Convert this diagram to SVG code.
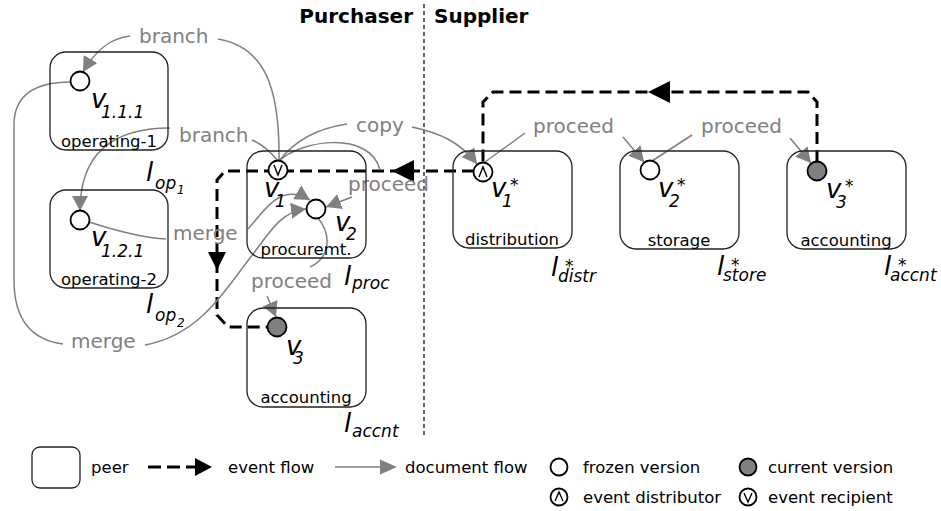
<svg xmlns="http://www.w3.org/2000/svg" width="941" height="511" viewBox="0 0 941 511">
<style>
text{font-family:"DejaVu Sans","Liberation Sans",sans-serif}
.box{fill:none;stroke:#222;stroke-width:1.3}
.nl{font-size:16.5px;fill:#000;text-anchor:middle}
.v{font-size:26px;font-style:italic;fill:#000}
.sub{font-size:17px;font-style:italic}
.ssub{font-size:12px;font-style:italic}
.gl{font-size:20px;fill:#808080}
.lg{font-size:16.5px;fill:#000}
.hd{font-size:20px;font-weight:bold;fill:#000}
.doc{fill:none;stroke:#808080;stroke-width:1.5}
.ev{fill:none;stroke:#000;stroke-width:3;stroke-dasharray:12 6}
.frz{fill:#fff;stroke:#000;stroke-width:1.8}
.cur{fill:#808080;stroke:#000;stroke-width:1.8}
.sym{fill:none;stroke:#000;stroke-width:1.4}
</style>
<defs>
<marker id="ga" viewBox="0 0 15 16" refX="15" refY="8" markerWidth="15" markerHeight="16" markerUnits="userSpaceOnUse" orient="auto">
<path d="M0,0 L15,8 L0,16 z" fill="#808080"/>
</marker>
</defs>
<rect width="941" height="511" fill="#fff"/>
<g id="divider">
<line x1="424" y1="4" x2="424" y2="437" stroke="#000" stroke-width="1.2" stroke-dasharray="4 3"/>
<text class="hd" x="413" y="23" text-anchor="end">Purchaser</text>
<text class="hd" x="434" y="23">Supplier</text>
</g>
<g id="connectors">
<path class="ev" d="M817 162 L817 102 L808 92 L493 92 L483 102 L483 163"/>
<polygon points="648,92 670,81 670,103" fill="#000"/>
<path class="ev" d="M474 171 L225 171 L217 180 L217 315 L228 327 L268 327"/>
<polygon points="392,171 414,160 414,182" fill="#000"/>
<polygon points="217,270 208,252 226,252" fill="#000"/>
<path class="doc" d="M130 36 C112 38 97 48 83 72" marker-end="url(#ga)"/>
<path class="doc" d="M218 39 C265 47 280 88 279 161"/>
<text class="gl" x="139" y="43">branch</text>
<path class="doc" d="M252 140 Q266 146 278 161"/>
<path class="doc" d="M170 128 C110 128 80 155 80 211" marker-end="url(#ga)"/>
<text class="gl" x="179" y="142">branch</text>
<path class="doc" d="M279 161 C295 140 320 128 347 124"/>
<path class="doc" d="M412 127 C440 133 460 142 477 164" marker-end="url(#ga)"/>
<text class="gl" x="356" y="132">copy</text>
<path class="doc" d="M279 161 C300 140 370 130 380 170"/>
<path class="doc" d="M352 197 L326 207" marker-end="url(#ga)"/>
<text class="gl" x="348" y="191">proceed</text>
<path class="doc" d="M89 222 C120 232 145 238 166 239"/>
<path class="doc" d="M248 229 C265 210 280 182 310 200" marker-end="url(#ga)"/>
<text class="gl" x="173" y="240">merge</text>
<path class="doc" d="M71 82 C40 82 14 92 14 125 L14 280 C14 320 32 340 63 344"/>
<path class="doc" d="M145 345 C200 335 225 290 250 258 C270 232 280 212 306 209" marker-end="url(#ga)"/>
<text class="gl" x="71" y="348">merge</text>
<path class="doc" d="M318 218 C332 235 330 258 310 267"/>
<path class="doc" d="M267 296 L276 317" marker-end="url(#ga)"/>
<text class="gl" x="251" y="288">proceed</text>
<path class="doc" d="M485 162 L525 133"/>
<path class="doc" d="M623 137 L644 162" marker-end="url(#ga)"/>
<text class="gl" x="533" y="133">proceed</text>
<path class="doc" d="M652 161 L692 135"/>
<path class="doc" d="M790 138 L811 163" marker-end="url(#ga)"/>
<text class="gl" x="701" y="133">proceed</text>
</g>
<g id="peer-op1">
<rect class="box" x="50" y="52" width="118" height="98" rx="16"/>
<text class="nl" x="109" y="147">operating-1</text>
<text class="v" x="146" y="181">l<tspan class="sub" x="155" y="189">op</tspan><tspan class="ssub" x="177" y="194">1</tspan></text>
</g>
<g id="v111">
<circle class="frz" cx="80" cy="81" r="9.5"/>
<text class="v" x="91" y="108">v<tspan class="sub" x="101" y="118">1.1.1</tspan></text>
</g>
<g id="peer-op2">
<rect class="box" x="50" y="190" width="118" height="98" rx="16"/>
<text class="nl" x="109" y="285">operating-2</text>
<text class="v" x="146" y="313">l<tspan class="sub" x="155" y="321">op</tspan><tspan class="ssub" x="177" y="327">2</tspan></text>
</g>
<g id="v121">
<circle class="frz" cx="80" cy="220" r="9.5"/>
<text class="v" x="91" y="246">v<tspan class="sub" x="101" y="257">1.2.1</tspan></text>
</g>
<g id="peer-proc">
<rect class="box" x="247" y="151" width="119" height="107" rx="16"/>
<text class="nl" x="306" y="255">procuremt.</text>
<text class="v" x="344" y="285">l<tspan class="sub" x="352" y="289">proc</tspan></text>
</g>
<g id="v1">
<circle class="frz" cx="278" cy="170" r="9.5"/>
<polyline class="sym" points="274,165 278,175 282,165"/>
<text class="v" x="264" y="197">v<tspan class="sub" x="275" y="207">1</tspan></text>
</g>
<g id="v2">
<circle class="frz" cx="316" cy="209" r="9.5"/>
<text class="v" x="335" y="231">v<tspan class="sub" x="346" y="240">2</tspan></text>
</g>
<g id="peer-accnt">
<rect class="box" x="247" y="308" width="119" height="99" rx="16"/>
<text class="nl" x="306" y="403">accounting</text>
<text class="v" x="344" y="432">l<tspan class="sub" x="352" y="437">accnt</tspan></text>
</g>
<g id="v3">
<circle class="cur" cx="277" cy="327" r="9.5"/>
<text class="v" x="286" y="355">v<tspan class="sub" x="293" y="364">3</tspan></text>
</g>
<g id="peer-distr">
<rect class="box" x="453" y="151" width="119" height="97" rx="16"/>
<text class="nl" x="512" y="245">distribution</text>
<text class="v" x="551" y="276">l<tspan class="sub" x="565" y="272">*</tspan><tspan class="sub" x="558" y="282">distr</tspan></text>
</g>
<g id="v1s">
<circle class="frz" cx="483" cy="172" r="9.5"/>
<polyline class="sym" points="479,177 483,167 487,177"/>
<text class="v" x="491" y="197">v<tspan class="sub" x="510" y="191">*</tspan><tspan class="sub" x="502" y="207">1</tspan></text>
</g>
<g id="peer-store">
<rect class="box" x="620" y="151" width="119" height="98" rx="16"/>
<text class="nl" x="679" y="246">storage</text>
<text class="v" x="717" y="275">l<tspan class="sub" x="731" y="271">*</tspan><tspan class="sub" x="723" y="281">store</tspan></text>
</g>
<g id="v2s">
<circle class="frz" cx="650" cy="170" r="9.5"/>
<text class="v" x="658" y="197">v<tspan class="sub" x="677" y="191">*</tspan><tspan class="sub" x="669" y="207">2</tspan></text>
</g>
<g id="peer-accnts">
<rect class="box" x="787" y="151" width="119" height="98" rx="16"/>
<text class="nl" x="846" y="246">accounting</text>
<text class="v" x="884" y="275">l<tspan class="sub" x="898" y="271">*</tspan><tspan class="sub" x="890" y="281">accnt</tspan></text>
</g>
<g id="v3s">
<circle class="cur" cx="817" cy="171" r="9.5"/>
<text class="v" x="826" y="198">v<tspan class="sub" x="845" y="192">*</tspan><tspan class="sub" x="836" y="208">3</tspan></text>
</g>
<g id="legend">
<rect class="box" x="32" y="447" width="48" height="41" rx="8"/>
<text class="lg" x="91" y="473">peer</text>
<line x1="148" y1="467" x2="198" y2="467" stroke="#000" stroke-width="3" stroke-dasharray="13 6"/>
<polygon points="195,458 212,467 195,476" fill="#000"/>
<text class="lg" x="228" y="473">event flow</text>
<line x1="335" y1="467" x2="382" y2="467" stroke="#808080" stroke-width="1.5"/>
<polygon points="380,459.5 397,467 380,474.5" fill="#808080"/>
<text class="lg" x="405" y="473">document flow</text>
<circle class="frz" cx="559" cy="467" r="8.5" stroke-width="1.6"/>
<text class="lg" x="583" y="473">frozen version</text>
<circle class="cur" cx="748" cy="467" r="8.5" stroke-width="1.6"/>
<text class="lg" x="768" y="473">current version</text>
<circle class="frz" cx="559" cy="497" r="8.5" stroke-width="1.6"/>
<polyline class="sym" points="555,501 559,492 563,501"/>
<text class="lg" x="583" y="503">event distributor</text>
<circle class="frz" cx="748" cy="497" r="8.5" stroke-width="1.6"/>
<polyline class="sym" points="744,493 748,502 752,493"/>
<text class="lg" x="768" y="503">event recipient</text>
</g>
</svg>
